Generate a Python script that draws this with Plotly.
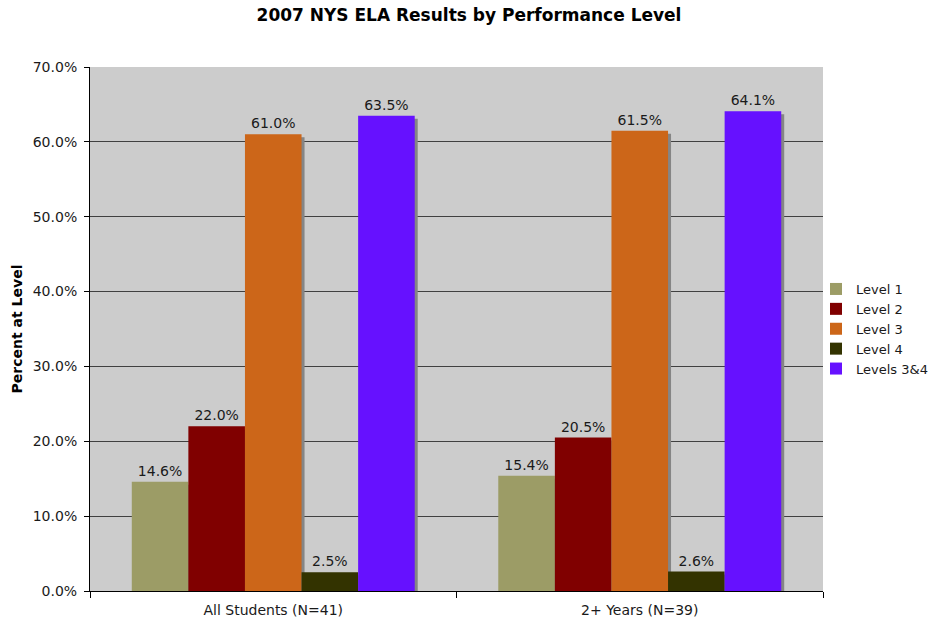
import plotly.graph_objects as go

categories = ["All Students (N=41)", "2+ Years (N=39)"]
series_names = ["Level 1", "Level 2", "Level 3", "Level 4", "Levels 3&4"]
level1 = [0.146, 0.154]
level2 = [0.220, 0.205]
level3 = [0.610, 0.615]
level4 = [0.025, 0.026]
levels34 = [0.635, 0.641]
series_values = [level1, level2, level3, level4, levels34]
colors = ["#9C9C66", "#800000", "#CC6619", "#333300", "#6611FF"]

W, H = 935, 622
ML, MR, MT, MB = 90, 112, 67, 31
plot_w = W - ML - MR
plot_h = H - MT - MB
YMAX = 0.7
SHADOW_PX = 3
dx = SHADOW_PX * 2.0 / plot_w
dy = SHADOW_PX * YMAX / plot_h

fig = go.Figure()
# shadows on main x axis (drawn underneath)
for name, vals in zip(series_names, series_values):
    fig.add_trace(go.Bar(
        x=categories, y=[max(v - dy, 0) for v in vals], xaxis="x", yaxis="y",
        marker=dict(color="#858585", line=dict(width=0)),
        showlegend=False, hoverinfo="skip"))
# real bars on overlaying axis
for name, vals, c in zip(series_names, series_values, colors):
    fig.add_trace(go.Bar(
        x=categories, y=vals, name=name, xaxis="x2", yaxis="y",
        marker=dict(color=c, line=dict(width=0)),
        texttemplate="%{y:.1%}", textposition="outside",
        textfont=dict(family="DejaVu Sans", size=14, color="#1a1a1a"),
        cliponaxis=False))

fig.update_layout(
    width=W, height=H, autosize=False,
    margin=dict(l=ML, r=MR, t=MT, b=MB, autoexpand=False),
    paper_bgcolor="white", plot_bgcolor="#CCCCCC",
    barmode="group", bargap=0.228, bargroupgap=0,
    font=dict(family="DejaVu Sans", size=14, color="#1a1a1a"),
    title=dict(text="<b>2007 NYS ELA Results by Performance Level</b>",
               x=469 / W, xanchor="center", y=1 - 15 / H, yanchor="middle",
               font=dict(family="DejaVu Sans", size=17, color="black")),
    xaxis=dict(type="category", range=[-0.5 - dx, 1.5 - dx], visible=False,
               showgrid=False, automargin=False),
    xaxis2=dict(type="category", range=[-0.5, 1.5], overlaying="x", anchor="y",
                side="bottom", showgrid=False, showline=True, linecolor="black",
                linewidth=1, ticks="outside", tickson="boundaries", ticklen=6,
                tickcolor="black", tickfont=dict(size=14, color="#1a1a1a"),
                ticklabelstandoff=6, automargin=False),
    yaxis=dict(range=[0, YMAX], dtick=0.1, tickformat=".1%", showgrid=True,
               gridcolor="#404040", gridwidth=1, zeroline=False, showline=True,
               linecolor="black", linewidth=1, ticks="outside", ticklen=5,
               tickcolor="black", tickfont=dict(size=14, color="#1a1a1a"),
               ticklabelstandoff=4, automargin=False,
               title=dict(text="<b>Percent at Level</b>", standoff=6,
                          font=dict(size=14, color="black"))),
    legend=dict(xref="container", yref="container", x=816 / W,
                xanchor="left", y=1 - 329 / H, yanchor="middle",
                font=dict(size=13, color="#1a1a1a"), bgcolor="rgba(0,0,0,0)",
                tracegroupgap=0, itemwidth=30),
    showlegend=True,
)

fig.write_html("out.html", config={"displayModeBar": False},
               post_script="document.body.style.margin='0';"
                           "document.body.style.overflow='hidden';")
